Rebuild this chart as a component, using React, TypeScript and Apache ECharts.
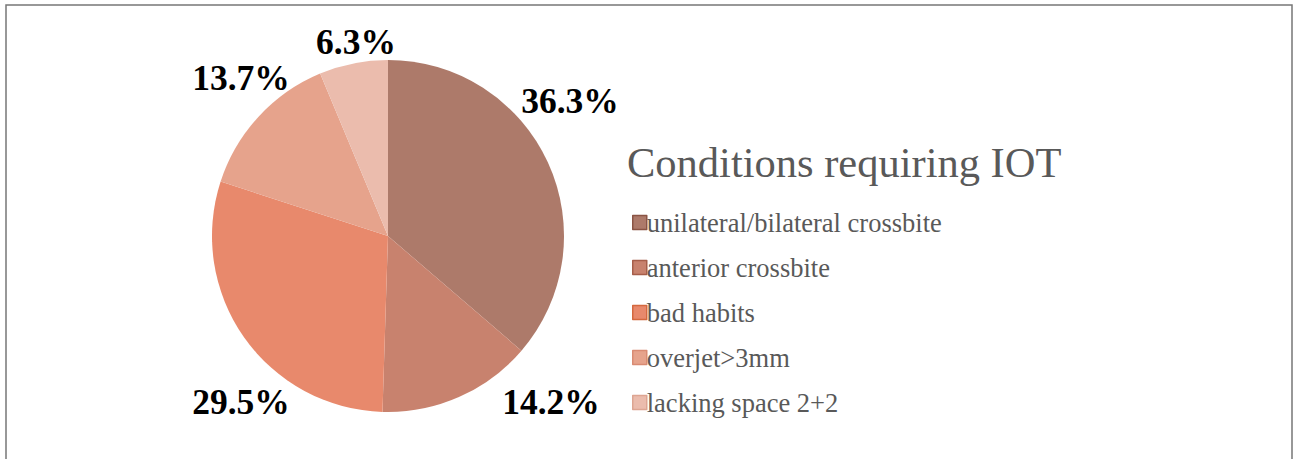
import React, { useEffect, useRef } from "react";
import * as echarts from "echarts";

const categories = [
  "unilateral/bilateral crossbite",
  "anterior crossbite",
  "bad habits",
  "overjet>3mm",
  "lacking space 2+2",
];
const values = [36.3, 14.2, 29.5, 13.7, 6.3];
const title = "Conditions requiring IOT";

const colors = ["#AD7A6A", "#C8826E", "#E8896C", "#E6A38C", "#EBBCAD"];
const borderColors = ["#8A5444", "#A65E4A", "#D4683F", "#D98B73", "#DDA592"];
// label anchor points (center of each text), pixels
const labelPos: [number, number][] = [
  [570, 101],
  [551, 402],
  [241, 402],
  [241, 78],
  [356, 42],
];

export default function App() {
  const ref = useRef<HTMLDivElement>(null);
  useEffect(() => {
    document.body.style.margin = "0";
    const chart = echarts.init(ref.current!, undefined, { renderer: "svg" });
    chart.setOption({
      animation: false,
      backgroundColor: "#ffffff",
      title: {
        text: title,
        left: 622,
        top: 136,
        textStyle: {
          fontFamily: "Liberation Serif",
          fontSize: 42.5,
          fontWeight: "normal",
          color: "#595959",
        },
      },
      legend: {
        orient: "vertical",
        left: 627,
        top: 204,
        itemWidth: 14,
        itemHeight: 14,
        itemGap: 18,
        icon: "rect",
        data: categories.map((c, i) => ({
          name: c,
          itemStyle: { color: colors[i], borderColor: borderColors[i], borderWidth: 1.5 },
        })),
        textStyle: {
          fontFamily: "Liberation Serif",
          fontSize: 26.5,
          lineHeight: 26.5,
          color: "#595959",
          padding: [0, 0, 0, -5],
        },
      },
      graphic: [
        {
          type: "rect",
          shape: { x: 6, y: 5, width: 1286, height: 480 },
          style: { fill: "none", stroke: "#777777", lineWidth: 1.5 },
          silent: true,
        },
      ],
      series: [
        {
          type: "pie",
          center: [388, 236],
          radius: 176,
          startAngle: 90,
          clockwise: true,
          data: categories.map((c, i) => ({
            name: c,
            value: values[i],
            itemStyle: { color: colors[i] },
          })),
          label: {
            show: true,
            position: "outside",
            formatter: "{c}%",
            fontFamily: "Liberation Serif",
            fontSize: 35.5,
            fontWeight: "bold",
            color: "#000000",
          },
          labelLine: { show: false },
          labelLayout: (params: any) => {
            const p = labelPos[params.dataIndex];
            return { x: p[0], y: p[1], align: "center", verticalAlign: "middle" };
          },
          emphasis: { disabled: true },
        },
      ],
    });
    return () => chart.dispose();
  }, []);
  return <div ref={ref} style={{ width: 1293, height: 459 }} />;
}
